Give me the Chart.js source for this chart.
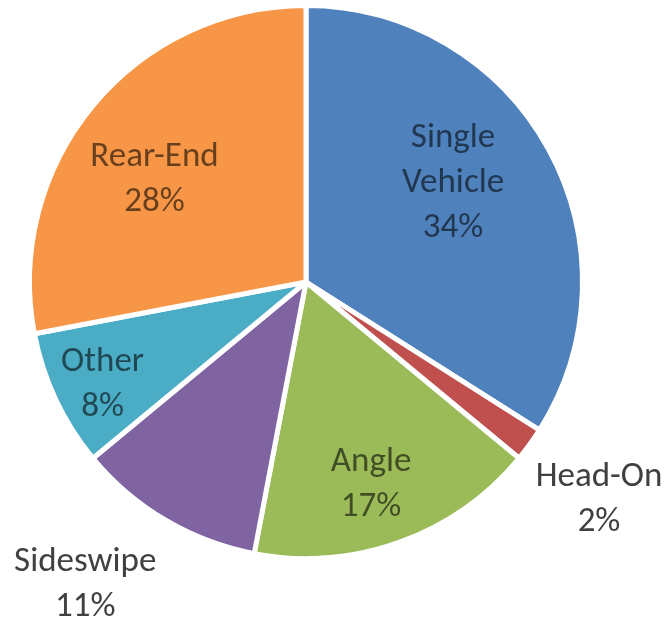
<!DOCTYPE html>
<html>
<head>
<meta charset="utf-8">
<script src="https://cdn.jsdelivr.net/npm/chart.js@4/dist/chart.umd.min.js"></script>
<style>
  html, body { margin: 0; padding: 0; background: #fff; }
  #wrap { width: 667px; height: 621px; }
</style>
</head>
<body>
<div id="wrap"><canvas id="pie"></canvas></div>
<script>
// data
const categories = ['Single Vehicle', 'Head-On', 'Angle', 'Sideswipe', 'Other', 'Rear-End'];
const labelLines = [['Single', 'Vehicle'], ['Head-On'], ['Angle'], ['Sideswipe'], ['Other'], ['Rear-End']];
const shares = [34, 2, 17, 11, 8, 28];
const sliceColors = ['#4F81BD', '#C0504D', '#9BBB59', '#8064A2', '#4BACC6', '#F79646'];

/*
-------------------------------------
/// slice labels (excel-ish best fit)
-------------------------------------
*/
const sliceLabels = {
  id: 'sliceLabels',
  afterDatasetsDraw(chart, args, opts) {
    const ctx = chart.ctx;
    const arcs = chart.getDatasetMeta(0).data;
    ctx.save();
    ctx.font = opts.font;
    ctx.textAlign = 'center';
    ctx.textBaseline = 'middle';
    arcs.forEach((arc, i) => {
      const p = arc.getProps(['x', 'y', 'startAngle', 'endAngle', 'outerRadius'], true);
      const [f, shift] = opts.place[i];
      const mid = (p.startAngle + p.endAngle) / 2 + shift * Math.PI / 180;
      const cx = p.x + Math.cos(mid) * p.outerRadius * f;
      const cy = p.y + Math.sin(mid) * p.outerRadius * f;
      const lines = labelLines[i].concat([shares[i] + '%']);
      const top = cy - (lines.length - 1) * opts.lineHeight / 2;
      ctx.fillStyle = f > 1 ? opts.outsideColor : opts.insideColor;
      lines.forEach((t, k) => ctx.fillText(t, cx, top + k * opts.lineHeight));
    });
    ctx.restore();
  }
};

new Chart(document.getElementById('pie'), {
  type: 'pie',
  data: {
    labels: categories,
    datasets: [{
      data: shares,
      backgroundColor: sliceColors,
      borderColor: '#fff',
      borderWidth: 5
    }]
  },
  options: {
    responsive: true,
    maintainAspectRatio: false,
    animation: false,
    layout: { padding: { left: 27, right: 82, top: 3, bottom: 60 } },
    plugins: {
      legend: { display: false },
      tooltip: { enabled: false },
      sliceLabels: {
        font: '35px Carlito, Calibri, "Open Sans", sans-serif',
        lineHeight: 45,
        // [radius factor, angle shift in degrees] per slice
        place: [[0.64, -5], [1.32, 0.6], [0.77, 2], [1.355, 5.5], [0.825, -1.7], [0.66, -5.7]],
        insideColor: 'rgba(0,0,0,0.58)',
        outsideColor: '#404040'
      }
    }
  },
  plugins: [sliceLabels]
});
</script>
</body>
</html>
